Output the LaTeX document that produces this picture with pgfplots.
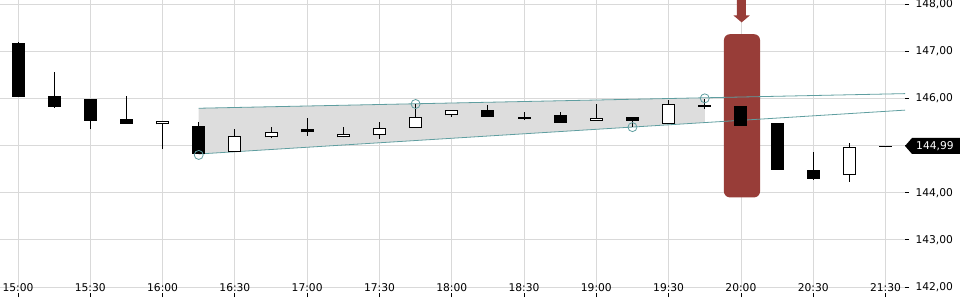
\documentclass[border=0pt]{standalone}
\usepackage{pgfplots}
\pgfplotsset{compat=1.18}
\usepackage{fontspec}
\setmainfont{DejaVu Sans}
\definecolor{gridc}{HTML}{D9D9D9}
\definecolor{chan}{HTML}{5F9EA0}
\definecolor{chanfill}{HTML}{DDDDDD}
\definecolor{alert}{RGB}{152,61,56}

\begin{document}
\begin{tikzpicture}
\begin{axis}[
  at={(0pt,0pt)}, anchor=south west,
  scale only axis, width=905pt, height=287pt,
  xmin=-0.498, xmax=24.54, ymin=142, ymax=148.085,
  clip=false,
  unbounded coords=jump,
  axis line style={draw=none},
  xtick={0,2,...,24},
  xticklabels={15:00,15:30,16:00,16:30,17:00,17:30,18:00,18:30,19:00,19:30,20:00,20:30,21:30},
  ytick={142,143,...,148},
  yticklabels={{142,00},{143,00},{144,00},{},{146,00},{147,00},{148,00}},
  xtick pos=left, ytick pos=right, yticklabel pos=right,
  grid=major, grid style={gridc, line width=0.8pt},
  tick align=outside, major tick length=4pt,
  tick style={black, line width=0.8pt},
  x tick style={yshift=-6pt},
  tick label style={font=\fontsize{10.7}{12}\selectfont, text=black},
  xticklabel style={anchor=center, yshift=3.5pt},
  yticklabel style={anchor=west, xshift=3pt},
]
% channel fill
\addplot[fill=chanfill, draw=none, forget plot] coordinates {(5,145.79) (19,146.01) (19,145.49) (5,144.82)} --cycle;
% highlight
\fill[alert, rounded corners=6pt] (axis cs:19.53,143.90) rectangle (axis cs:20.53,147.36);
\addplot[fill=alert, draw=none, forget plot] coordinates {(19.89,148.085) (20.14,148.085) (20.14,147.76) (20.25,147.76) (20.02,147.61) (19.79,147.76) (19.89,147.76)} --cycle;
% channel lines
\addplot[chan, line width=0.8pt, forget plot] coordinates {(5,145.79) (24.54,146.10)};
\addplot[chan, line width=0.8pt, forget plot] coordinates {(5,144.82) (24.54,145.75)};
% wicks (low, high)
\addplot[black, line width=1pt, line cap=butt, forget plot] coordinates {
 (0,146.03) (0,147.20) (0,nan)
 (1,145.80) (1,146.56) (1,nan)
 (2,145.34) (2,145.99) (2,nan)
 (3,145.46) (3,146.05) (3,nan)
 (4,144.93) (4,145.51) (4,nan)
 (5,144.83) (5,145.50) (5,nan)
 (6,144.87) (6,145.35) (6,nan)
 (7,145.15) (7,145.39) (7,nan)
 (8,145.21) (8,145.58) (8,nan)
 (9,145.17) (9,145.39) (9,nan)
 (10,145.14) (10,145.50) (10,nan)
 (11,145.38) (11,145.88) (11,nan)
 (12,145.61) (12,145.75) (12,nan)
 (13,145.61) (13,145.86) (13,nan)
 (14,145.54) (14,145.71) (14,nan)
 (15,145.48) (15,145.71) (15,nan)
 (16,145.53) (16,145.88) (16,nan)
 (17,145.40) (17,145.61) (17,nan)
 (18,145.46) (18,145.96) (18,nan)
 (19,145.77) (19,145.98) (19,nan)
 (22,144.27) (22,144.86) (22,nan)
 (23,144.23) (23,145.05)
};
% bearish bodies (close, open)
\addplot[black, line width=13pt, line cap=butt, forget plot] coordinates {
 (0,146.03) (0,147.18) (0,nan)
 (1,145.82) (1,146.05) (1,nan)
 (2,145.53) (2,145.99) (2,nan)
 (3,145.46) (3,145.56) (3,nan)
 (5,144.83) (5,145.41) (5,nan)
 (8,145.28) (8,145.34) (8,nan)
 (13,145.61) (13,145.75) (13,nan)
 (14,145.57) (14,145.60) (14,nan)
 (15,145.48) (15,145.64) (15,nan)
 (17,145.53) (17,145.61) (17,nan)
 (19,145.82) (19,145.85) (19,nan)
 (20,145.42) (20,145.84) (20,nan)
 (21,144.49) (21,145.48) (21,nan)
 (22,144.30) (22,144.48) (22,nan)
 (24,144.98) (24,145.00)
};
% bullish bodies: outline (open, close)
\addplot[black, line width=13pt, line cap=butt, forget plot] coordinates {
 (4,145.45) (4,145.51) (4,nan)
 (6,144.87) (6,145.20) (6,nan)
 (7,145.17) (7,145.28) (7,nan)
 (9,145.17) (9,145.24) (9,nan)
 (10,145.22) (10,145.38) (10,nan)
 (11,145.38) (11,145.60) (11,nan)
 (12,145.64) (12,145.75) (12,nan)
 (16,145.53) (16,145.58) (16,nan)
 (18,145.46) (18,145.89) (18,nan)
 (23,144.37) (23,144.97)
};
% bullish bodies: white interior
\addplot[white, line width=11pt, line cap=butt, forget plot] coordinates {
 (4,145.471) (4,145.489) (4,nan)
 (6,144.891) (6,145.179) (6,nan)
 (7,145.191) (7,145.259) (7,nan)
 (9,145.191) (9,145.219) (9,nan)
 (10,145.241) (10,145.359) (10,nan)
 (11,145.401) (11,145.579) (11,nan)
 (12,145.661) (12,145.729) (12,nan)
 (16,145.551) (16,145.559) (16,nan)
 (18,145.481) (18,145.869) (18,nan)
 (23,144.391) (23,144.949)
};
% pivot circles
\addplot[only marks, mark=o, mark size=4.5pt, mark options={chan, line width=0.8pt}, forget plot] coordinates {(5,144.80) (11,145.88) (17,145.39) (19,146.00)};
\coordinate (lp) at (axis cs:24.54,144.99);
\end{axis}
% last price label (canvas units)
\fill[black] (lp) -- ++(7pt,8pt) -- ++(48pt,0pt) -- ++(0pt,-16pt) -- ++(-48pt,0pt) -- cycle;
\node[anchor=west, text=white, font=\fontsize{10.7}{12}\selectfont, inner sep=0pt] at ([xshift=11pt]lp) {144,99};
\pgfresetboundingbox
\path[use as bounding box] (0pt,-13pt) rectangle (960pt,287pt);
\end{tikzpicture}
\end{document}
